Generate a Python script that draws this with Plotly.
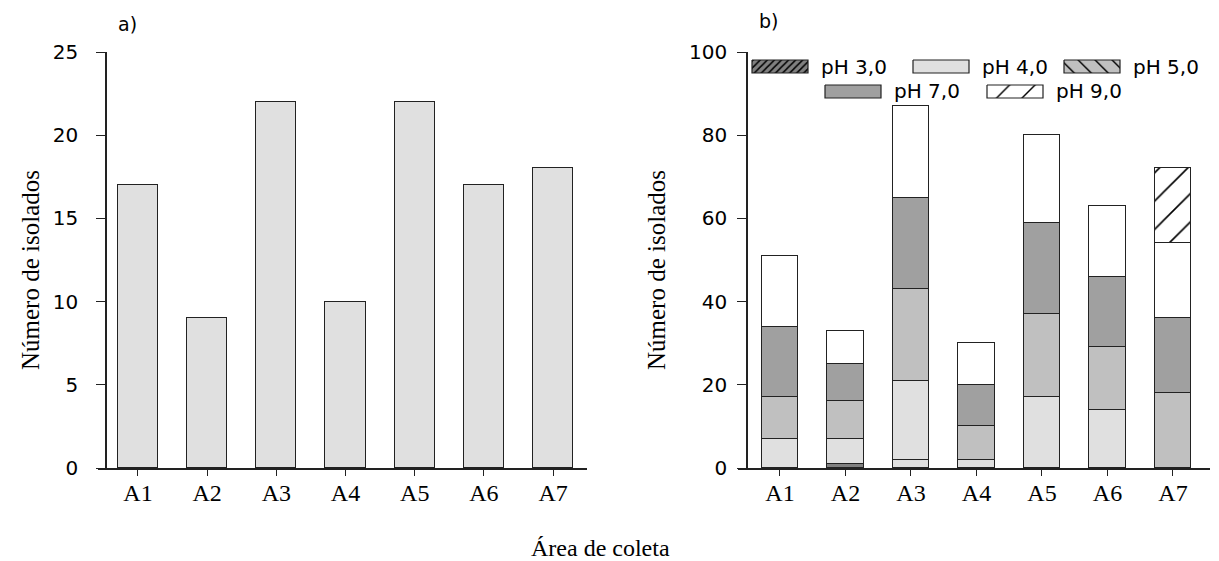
import plotly.graph_objects as go

# ---------------- data ----------------
areas = ["A1", "A2", "A3", "A4", "A5", "A6", "A7"]
isolados = [17, 9, 22, 10, 22, 17, 18]

ph_labels = ["pH 3,0", "pH 4,0", "pH 5,0", "pH 7,0", "pH 9,0"]
ph3 = [0, 1, 2, 0, 0, 0, 0]
ph4 = [7, 6, 19, 2, 17, 14, 0]
ph5 = [10, 9, 22, 8, 20, 15, 18]
ph7 = [17, 9, 22, 10, 22, 17, 18]
ph9 = [17, 8, 22, 10, 21, 17, 18]
ph9_hatched = [0, 0, 0, 0, 0, 0, 18]

y_ticks_a = [0, 5, 10, 15, 20, 25]
y_ticks_b = [0, 20, 40, 60, 80, 100]

# ---------------- style ----------------
W, H = 1219, 561
SANS = "DejaVu Sans, Arial, sans-serif"
SERIF = "Liberation Serif, Times New Roman, serif"
LINE = "#222222"
C3, C4, C5, C7, C9 = "#808080", "#e0e0e0", "#c0c0c0", "#a0a0a0", "#ffffff"


def px(x):
    return x / W


def py(y):
    return 1 - y / H


fig = go.Figure()

# panel a
fig.add_trace(go.Bar(x=areas, y=isolados, width=0.58, xaxis="x", yaxis="y",
                     marker=dict(color=C4, line=dict(color=LINE, width=1.3)),
                     showlegend=False, name="Número de isolados"))

# panel b (stacked)
ph3_colors = [C3 if i != 2 else C4 for i in range(len(areas))]
series = [
    (ph_labels[0], ph3, dict(color=ph3_colors)),
    (ph_labels[1], ph4, dict(color=C4)),
    (ph_labels[2], ph5, dict(color=C5)),
    (ph_labels[3], ph7, dict(color=C7)),
    (ph_labels[4], ph9, dict(color=C9)),
    (ph_labels[4], ph9_hatched, dict(color=C9, pattern=dict(shape="/", fgcolor="#000", bgcolor=C9,
                                                           fgopacity=1, size=20, solidity=0.08))),
]
for name, vals, mk in series:
    mk = dict(mk)
    mk["line"] = dict(color=LINE, width=1.3)
    fig.add_trace(go.Bar(x=areas, y=vals, width=0.55, xaxis="x2", yaxis="y2",
                         marker=mk, name=name, showlegend=False))

# custom legend (overlay pixel axis)
legend_items = [
    (ph_labels[0], 752, 60, dict(shape="/", bgcolor=C3, fgcolor="#000", fgopacity=1, size=5, solidity=0.3), C3),
    (ph_labels[1], 913, 60, None, C4),
    (ph_labels[2], 1064, 60, dict(shape="\\", bgcolor=C5, fgcolor="#000", fgopacity=1, size=12, solidity=0.12), C5),
    (ph_labels[3], 825, 85, None, C7),
    (ph_labels[4], 987, 85, dict(shape="/", bgcolor=C9, fgcolor="#000", fgopacity=1, size=18, solidity=0.08), C9),
]
SW, SH = 56, 13
annotations = []
for name, x0, y0, pat, col in legend_items:
    kw = dict(x=[x0, x0 + SW, x0 + SW, x0, x0], y=[y0, y0, y0 + SH, y0 + SH, y0],
              mode="lines", fill="toself", fillcolor=col,
              line=dict(color=LINE, width=1.2), xaxis="x3", yaxis="y3",
              showlegend=False, hoverinfo="skip")
    if pat:
        kw["fillpattern"] = pat
    fig.add_trace(go.Scatter(**kw))
    annotations.append(dict(text=name, x=px(x0 + SW + 11), y=py(y0 + SH / 2), xref="paper", yref="paper",
                            xanchor="left", yanchor="middle", showarrow=False,
                            font=dict(family=SANS, size=20, color="#000")))

# texts
annotations += [
    dict(text="a)", x=px(127), y=py(24), xref="paper", yref="paper", showarrow=False,
         xanchor="center", yanchor="middle", font=dict(family=SANS, size=19, color="#000")),
    dict(text="b)", x=px(768), y=py(21), xref="paper", yref="paper", showarrow=False,
         xanchor="center", yanchor="middle", font=dict(family=SANS, size=19, color="#000")),
    dict(text="Número de isolados", x=px(31), y=py(270), xref="paper", yref="paper", showarrow=False,
         xanchor="center", yanchor="middle",
         textangle=-90, font=dict(family=SERIF, size=25, color="#000")),
    dict(text="Número de isolados", x=px(657), y=py(270), xref="paper", yref="paper", showarrow=False,
         xanchor="center", yanchor="middle",
         textangle=-90, font=dict(family=SERIF, size=25, color="#000")),
    dict(text="Área de coleta", x=px(600), y=py(548), xref="paper", yref="paper", showarrow=False,
         xanchor="center", yanchor="middle", font=dict(family=SERIF, size=24, color="#000")),
]

common_x = dict(showline=True, linecolor=LINE, linewidth=1.5, ticks="outside", ticklen=6,
                tickcolor=LINE, tickwidth=1.3, showgrid=False, zeroline=False,
                tickfont=dict(family=SERIF, size=24, color="#000"), ticklabelstandoff=-4,
                automargin=False, fixedrange=True)
common_y = dict(showline=True, linecolor=LINE, linewidth=1.5, ticks="outside", ticklen=9,
                tickcolor=LINE, tickwidth=1.3, showgrid=False, zeroline=False,
                tickfont=dict(family=SANS, size=20, color="#000"),
                automargin=False, fixedrange=True, anchor="free")

fig.update_layout(
    width=W, height=H,
    margin=dict(l=0, r=0, t=0, b=0),
    paper_bgcolor="white", plot_bgcolor="rgba(0,0,0,0)",
    barmode="stack", bargap=0,
    showlegend=False,
    xaxis=dict(domain=[px(98), px(587)], range=[-0.578, 6.49], anchor="y", **common_x),
    yaxis=dict(domain=[py(468), py(52)], range=[0, 25], position=px(106),
               tickvals=y_ticks_a, ticklabelstandoff=14, **common_y),
    xaxis2=dict(domain=[px(738), px(1210)], range=[-0.641, 6.565], anchor="y2", **common_x),
    yaxis2=dict(domain=[py(468), py(52)], range=[0, 100], position=px(747),
                tickvals=y_ticks_b, ticklabelstandoff=6, **common_y),
    xaxis3=dict(domain=[0, 1], range=[0, W], visible=False, anchor="y3", fixedrange=True),
    yaxis3=dict(domain=[0, 1], range=[H, 0], visible=False, anchor="x3", fixedrange=True),
    annotations=annotations,
)

fig.write_html("out.html", config={"displayModeBar": False},
               post_script="document.body.style.margin='0';document.body.style.overflow='hidden';")
